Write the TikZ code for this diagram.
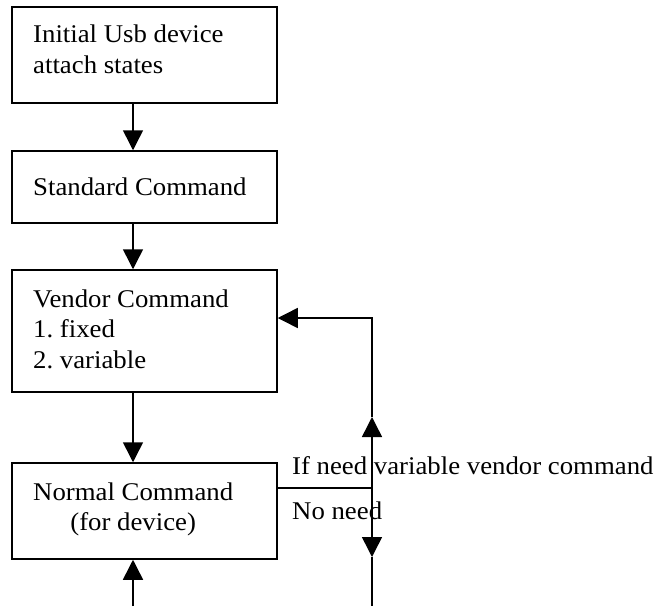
\documentclass[tikz,border=0pt]{standalone}
\usepackage{fontspec}
\setmainfont[FakeStretch=1.05]{Liberation Serif}
\usetikzlibrary{arrows.meta}
\frenchspacing

\tikzset{
  box/.style={draw, line width=1.5pt, minimum width=265pt, inner sep=0pt},
  txt/.style={anchor=base west, align=left, inner sep=0pt, font=\fontsize{25.5}{30.5}\selectfont},
  wire/.style={line width=1.5pt},
  flow/.style={wire, -{Triangle[length=20pt,width=20pt]}},
}

\begin{document}
\begin{tikzpicture}[x=1pt,y=-1pt]
    \useasboundingbox (0,0) rectangle (656,606);

    % --- boxes
    \node[box, minimum height=96pt]  (init)   at (144.5,55)  {};
    \node[box, minimum height=72pt]  (std)    at (144.5,187) {};
    \node[box, minimum height=122pt] (vendor) at (144.5,331) {};
    \node[box, minimum height=96pt]  (normal) at (144.5,511) {};

    % --- texts (anchored at the last baseline)
    \node[txt] (initT)   at (33,73)  {Initial Usb device\\attach states};
    \node[txt] (stdT)    at (33,195) {Standard Command};
    \node[txt] (vendorT) at (33,368) {Vendor Command\\1. fixed\\2. variable};
    \node[txt] (normalT) at (33,500) {\begin{tabular}[t]{@{}c@{}}Normal Command\\(for device)\end{tabular}};

    % --- main flow
    \coordinate (col) at (133,0);
    \draw[flow] (init.south -| col) -- (std.north -| col);
    \draw[flow] (std.south -| col) -- (vendor.north -| col);
    \draw[flow] (vendor.south -| col) -- (normal.north -| col);
    \coordinate (entry) at (133,606);
    \draw[flow] (entry) -- (normal.south -| col);

    % --- loop back
    \coordinate (junc) at (372,488);
    \coordinate (upTip) at (372,417);
    \coordinate (loopTop) at (372,318);
    \coordinate (downTip) at (372,557);
    \coordinate (exit) at (372,606);
    \draw[line width=1.1pt] (normal.east |- junc) -- (junc);
    \draw[flow] (junc) -- (upTip);
    \draw[flow] (upTip) -- (loopTop) -- (vendor.east |- loopTop);
    \draw[flow] (junc) -- (downTip);
    \draw[wire] (downTip) -- (exit);

    \node[txt] (needL) at (292,474) {If need variable vendor command};
    \node[txt] (noL)   at (292,519) {No need};
\end{tikzpicture}
\end{document}
